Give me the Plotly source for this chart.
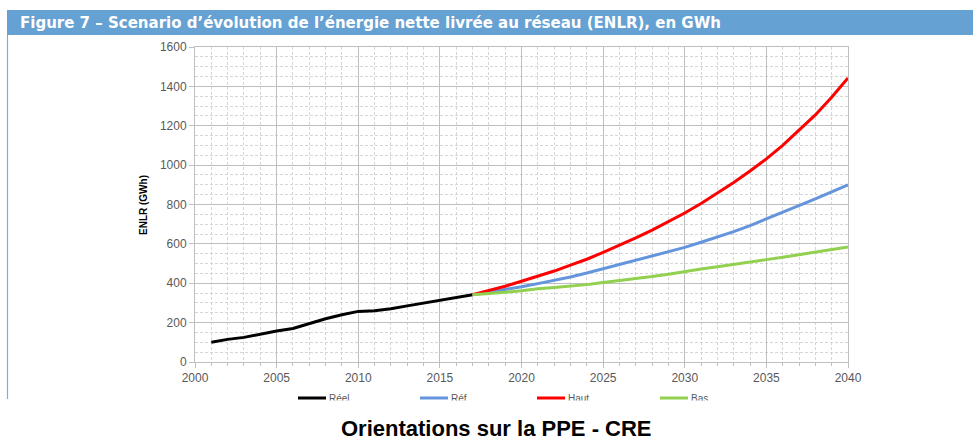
import plotly.graph_objects as go

# Historical net energy delivered to the grid (GWh)
years_real = list(range(2001, 2018))
reel = [100, 115, 125, 142, 157, 170, 197, 220, 240, 257, 260, 270, 285, 300, 315, 328, 342]

# Scenario projections (GWh)
years_proj = list(range(2017, 2041))
ref = [342, 355, 368, 382, 398, 414, 432, 452, 474, 494, 515, 537, 559, 582,
       608, 634, 662, 693, 726, 758, 792, 828, 864, 900]
haut = [342, 362, 385, 410, 435, 462, 492, 522, 557, 592, 630, 670, 712, 757,
        805, 857, 912, 970, 1032, 1100, 1175, 1255, 1345, 1443]
bas = [342, 347, 354, 362, 372, 378, 385, 393, 404, 413, 424, 434, 446, 460,
       472, 484, 495, 507, 520, 532, 545, 556, 570, 584]

series_names = ["Réel", "Réf", "Haut", "Bas"]
series_colors = ["#000000", "#6495DC", "#FF0000", "#92D050"]
series_x = [years_real, years_proj, years_proj, years_proj]
series_y = [reel, ref, haut, bas]

title_text = "Figure 7 – Scenario d’évolution de l’énergie nette livrée au réseau (ENLR), en GWh"
caption_text = "Orientations sur la PPE - CRE"
y_title = "ENLR (GWh)"

W, H = 973, 440
L, R, T, B = 195, 848, 47, 362  # plot area in pixels


def px(xp):
    return (xp - L) / (R - L)


def py(yp):
    return (B - yp) / (B - T)


fig = go.Figure()
for name, col, xs, ys in zip(series_names, series_colors, series_x, series_y):
    fig.add_trace(go.Scatter(x=xs, y=ys, mode="lines", name=name,
                             line=dict(color=col, width=3), showlegend=False))

grid_major = "#BFBFBF"
grid_minor = "#D6D6D6"
tick_font = dict(family="Liberation Sans, Arial, sans-serif", size=12, color="#595959")

fig.update_xaxes(range=[2000, 2040], tickmode="linear", tick0=2000, dtick=5,
                 showgrid=True, gridcolor=grid_major, gridwidth=1,
                 minor=dict(dtick=1, showgrid=True, gridcolor=grid_minor, griddash="3px,2px",
                            ticks="outside", ticklen=3, tickcolor=grid_major),
                 showline=True, linecolor=grid_major, mirror=True,
                 ticks="outside", ticklen=5, tickcolor=grid_major,
                 tickfont=tick_font, zeroline=False)
fig.update_yaxes(range=[0, 1600], tickmode="linear", tick0=0, dtick=200,
                 showgrid=True, gridcolor=grid_major, gridwidth=1,
                 minor=dict(dtick=50, showgrid=True, gridcolor=grid_minor, griddash="3px,2px"),
                 showline=True, linecolor=grid_major, mirror=True,
                 ticks="outside", ticklen=5, tickcolor=grid_major,
                 tickfont=tick_font, zeroline=False)

shapes = []
annotations = []

# Header bar and left frame line
shapes.append(dict(type="rect", xref="paper", yref="paper",
                   x0=px(7), x1=px(W + 2), y0=py(35), y1=py(10),
                   fillcolor="#66A1D3", line=dict(width=0), layer="below"))
shapes.append(dict(type="line", xref="paper", yref="paper",
                   x0=px(7.5), x1=px(7.5), y0=py(35), y1=py(399),
                   line=dict(color="#7FAFD9", width=1.2)))

annotations.append(dict(text=title_text, xref="paper", yref="paper",
                        x=px(18), y=py(22.5), xanchor="left", yanchor="middle",
                        showarrow=False,
                        font=dict(family="DejaVu Sans, sans-serif", size=15,
                                  color="white", weight="bold")))

annotations.append(dict(text=y_title, xref="paper", yref="paper",
                        x=px(143), y=py(205), xanchor="center", yanchor="middle",
                        textangle=-90, showarrow=False,
                        font=dict(family="Liberation Sans, Arial, sans-serif", size=10,
                                  color="#000000", weight="bold")))

# Legend row
legend_x = [298, 420, 537, 660]
for name, col, x0 in zip(series_names, series_colors, legend_x):
    shapes.append(dict(type="line", xref="paper", yref="paper",
                       x0=px(x0), x1=px(x0 + 28), y0=py(398), y1=py(398),
                       line=dict(color=col, width=3)))
    annotations.append(dict(text=name, xref="paper", yref="paper",
                            x=px(x0 + 29), y=py(398), xanchor="left", yanchor="middle",
                            showarrow=False,
                            font=dict(family="Liberation Sans, Arial, sans-serif", size=10,
                                      color="#595959")))

# White band beneath the chart frame
annotations.append(dict(text=" ", xref="paper", yref="paper",
                        x=px(-5), y=py(400), xanchor="left", yanchor="top",
                        width=W + 20, height=45, bgcolor="white", showarrow=False))

annotations.append(dict(text=caption_text, xref="paper", yref="paper",
                        x=px(496), y=py(428), xanchor="center", yanchor="middle",
                        showarrow=False, borderpad=0,
                        font=dict(family="Liberation Sans, Arial, sans-serif", size=22,
                                  color="#000000", weight="bold")))

fig.update_layout(width=W, height=H,
                  margin=dict(l=L, r=W - R, t=T, b=H - B),
                  paper_bgcolor="white", plot_bgcolor="white",
                  shapes=shapes, annotations=annotations, showlegend=False)

fig.write_html("out.html")
